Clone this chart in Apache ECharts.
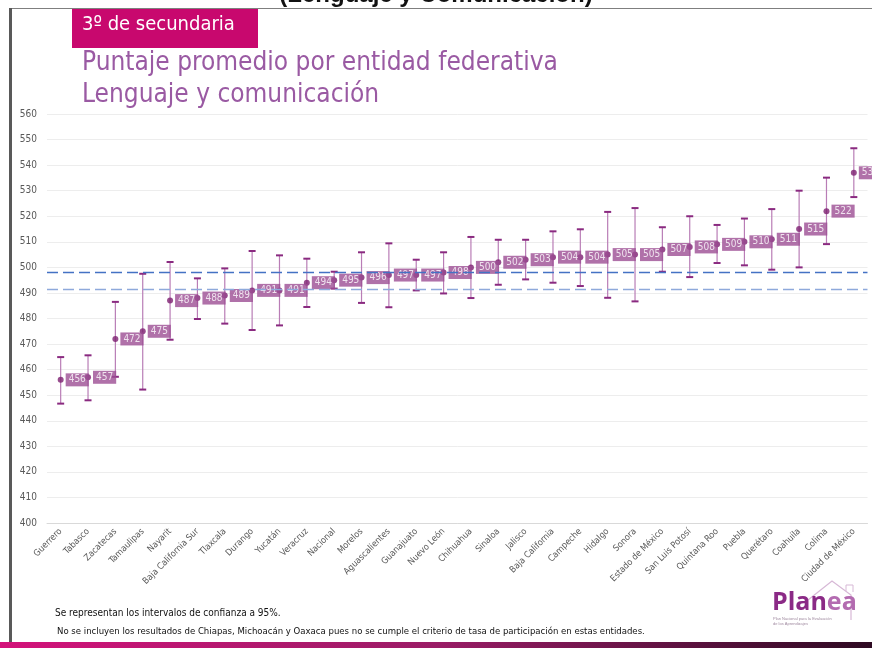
<!DOCTYPE html>
<html>
<head>
<meta charset="utf-8">
<script src="https://cdn.jsdelivr.net/npm/echarts@6/dist/echarts.min.js"></script>
<style>
html,body{margin:0;padding:0;background:#fff;}
#chart{width:872px;height:648px;}
</style>
</head>
<body>
<div id="chart"></div>
<script>
var categories = ['Guerrero','Tabasco','Zacatecas','Tamaulipas','Nayarit','Baja California Sur','Tlaxcala','Durango','Yucatán','Veracruz','Nacional','Morelos','Aguascalientes','Guanajuato','Nuevo León','Chihuahua','Sinaloa','Jalisco','Baja California','Campeche','Hidalgo','Sonora','Estado de México','San Luis Potosí','Quintana Roo','Puebla','Querétaro','Coahuila','Colima','Ciudad de México'];
var scores = [456,457,472,475,487,488,489,491,491,494,495,496,497,497,498,500,502,503,504,504,505,505,507,508,509,510,511,515,522,537];
var lower = [446.7,448,457.2,452.2,471.7,479.8,478,475.5,477.3,484.5,491.7,486.1,484.4,491,489.8,488,493.2,495.3,494,492.7,488.1,486.7,498.3,496.2,501.7,500.8,499.1,500,509.1,527.5];
var upper = [464.9,465.6,486.5,497.5,502.1,495.7,499.6,506.4,504.7,503.4,498.3,505.9,509.4,503,505.9,511.9,510.8,510.8,514.1,514.9,521.7,523.2,515.7,520,516.6,519.1,522.8,530,535.1,546.6];
var nationalBand = [498, 491.3];
var yTicks = {min:400, max:560, interval:10};

var FONT = '"Liberation Sans Narrow","DejaVu Sans Condensed","Open Sans",sans-serif';

var errData = categories.map(function(c,i){ return [i, lower[i], upper[i]]; });
var ptData = categories.map(function(c,i){ return [i, scores[i]]; });

var chart = echarts.init(document.getElementById('chart'), null, {renderer:'canvas'});
chart.setOption({
  animation:false,
  backgroundColor:'#ffffff',
  grid:{left:47, right:4.5, top:114, bottom:125, containLabel:false},
  xAxis:{
    type:'category', data:categories, boundaryGap:true,
    axisLine:{show:true, lineStyle:{color:'#D9D9D9'}},
    axisTick:{show:false},
    axisLabel:{interval:0, rotate:45, margin:7, color:'#595959', fontSize:9, fontFamily:FONT}
  },
  yAxis:{
    type:'value', min:yTicks.min, max:yTicks.max, interval:yTicks.interval,
    axisLine:{show:false}, axisTick:{show:false},
    axisLabel:{margin:10, color:'#595959', fontSize:10, fontFamily:FONT},
    splitLine:{lineStyle:{color:'#EDEDED', width:1}}
  },
  series:[
    {
      type:'custom', z:2,
      data:errData,
      encode:{x:0, y:[1,2]},
      renderItem:function(params, api){
        var x = api.value(0);
        var pLo = api.coord([x, api.value(1)]);
        var pHi = api.coord([x, api.value(2)]);
        var hw = 3.5;
        return {type:'group', children:[
          {type:'line', shape:{x1:pHi[0],y1:pHi[1],x2:pLo[0],y2:pLo[1]}, style:{stroke:'#B97DB6', lineWidth:1.2}},
          {type:'line', shape:{x1:pHi[0]-hw,y1:pHi[1],x2:pHi[0]+hw,y2:pHi[1]}, style:{stroke:'#8A2A80', lineWidth:2}},
          {type:'line', shape:{x1:pLo[0]-hw,y1:pLo[1],x2:pLo[0]+hw,y2:pLo[1]}, style:{stroke:'#8A2A80', lineWidth:2}}
        ]};
      },
      markLine:{
        silent:true, symbol:'none', animation:false,
        label:{show:false},
        lineStyle:{type:[11,5], width:1.4},
        data:[
          {yAxis:nationalBand[0], lineStyle:{color:'#4472C4'}},
          {yAxis:nationalBand[1], lineStyle:{color:'#8EA9DB'}}
        ]
      }
    },
    {
      type:'scatter', z:4,
      data:ptData,
      symbol:'circle', symbolSize:6,
      itemStyle:{color:'#7D1F70'},
      label:{
        show:true, position:'right', distance:2,
        formatter:function(p){ return p.value[1]; },
        color:'#ffffff', fontSize:10, fontFamily:FONT,
        backgroundColor:'#9C4D94', padding:[2,3,1,3]
      }
    }
  ],
  graphic:[
    {type:'text', left:'center', top:-17, z:10, style:{text:'(Lenguaje y Comunicación)', font:'bold 24px "Liberation Sans",Arial,sans-serif', fill:'#111'}},
    {type:'rect', shape:{x:9, y:8, width:863, height:1}, style:{fill:'#7F7F7F'}, z:10},
    {type:'rect', shape:{x:9, y:8, width:3, height:636}, style:{fill:'#595959'}, z:10},
    {type:'rect', shape:{x:0, y:642, width:872, height:6}, z:10, style:{fill:new echarts.graphic.LinearGradient(0,0,1,0,[{offset:0,color:'#D3127A'},{offset:0.5,color:'#9A1C66'},{offset:1,color:'#2E0A22'}])}},
    {type:'rect', shape:{x:72, y:9, width:186, height:39}, style:{fill:'#C8086E'}, z:10},
    {type:'text', left:82, top:15, z:11, style:{text:'3º de secundaria', font:'20px "DejaVu Sans Condensed","Open Sans",sans-serif', fill:'#ffffff'}},
    {type:'text', left:82, top:50, z:11, style:{text:'Puntaje promedio por entidad federativa', font:'26px '+FONT, fill:'#9A5AA3'}},
    {type:'text', left:82, top:82, z:11, style:{text:'Lenguaje y comunicación', font:'26px '+FONT, fill:'#9A5AA3'}},
    {type:'text', left:55, top:608, z:11, style:{text:'Se representan los intervalos de confianza a 95%.', font:'10px '+FONT, fill:'#111'}},
    {type:'text', left:57, top:627, z:11, style:{text:'No se incluyen los resultados de Chiapas, Michoacán y Oaxaca pues no se cumple el criterio de tasa de participación en estas entidades.', font:'9.5px '+FONT, fill:'#111'}},
    {type:'polyline', z:11, shape:{points:[[808,600],[832,581],[851,595],[851,620]]}, style:{stroke:'#D7B8D6', lineWidth:1.2, fill:null}},
    {type:'polyline', z:11, shape:{points:[[846,591],[846,585],[853,585],[853,592]]}, style:{stroke:'#D7B8D6', lineWidth:1, fill:null}},
    {type:'text', left:772, top:590, z:12, style:{text:'{a|Plan}{b|ea}', rich:{a:{font:'bold 25px "Open Sans",sans-serif', fill:'#8B2A86'},b:{font:'bold 25px "Open Sans",sans-serif', fill:'#B36BB0'}}}},
    {type:'text', left:773, top:617, z:12, style:{text:'Plan Nacional para la Evaluación', font:'4px sans-serif', fill:'#A08AA0'}},
    {type:'text', left:773, top:622, z:12, style:{text:'de los Aprendizajes', font:'4px sans-serif', fill:'#A08AA0'}}
  ]
});
</script>
</body>
</html>
